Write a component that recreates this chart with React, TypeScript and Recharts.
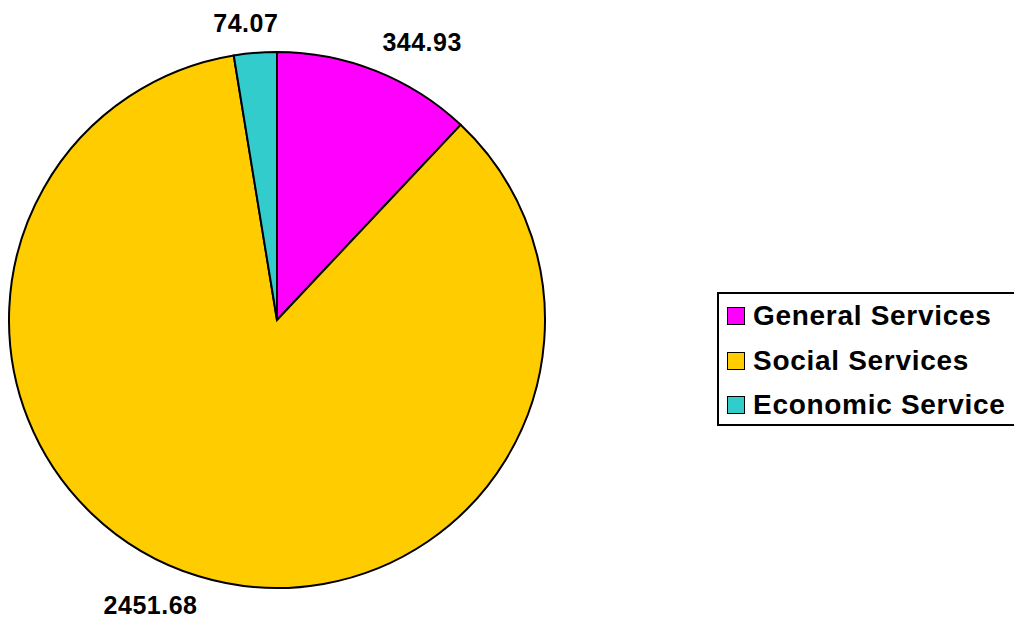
import React from "react";
import { PieChart, Pie, Cell, Legend } from "recharts";

const categories = ["General Services", "Social Services", "Economic Service"];
const values = [344.93, 2451.68, 74.07];
const colors = ["#FF00FF", "#FFCC00", "#33CCCC"];

const data = categories.map((name, i) => ({ name, value: values[i] }));

const RADIAN = Math.PI / 180;
const FONT = "'Liberation Sans', Arial, sans-serif";

const renderLabel = (props: any) => {
  const { cx, cy, midAngle, outerRadius, value } = props;
  const r = outerRadius + 18;
  const cos = Math.cos(midAngle * RADIAN);
  const sin = Math.sin(midAngle * RADIAN);
  const x = cx + r * cos;
  const y = cy - r * sin;
  // place the label's nearest corner on the ray through the slice middle
  const anchor = cos > 0.2 ? "start" : cos < -0.2 ? "end" : "middle";
  const dx = anchor === "middle" ? -8 : anchor === "end" ? 4 : 0;
  const dy = sin >= 0 ? -3 : 20;
  return (
    <text
      x={x}
      y={y}
      dx={dx}
      dy={dy}
      textAnchor={anchor}
      fill="#000"
      fontFamily={FONT}
      fontWeight="bold"
      fontSize={25}
      letterSpacing={0.5}
    >
      {value.toFixed(2)}
    </text>
  );
};

const renderLegend = () => (
  <div
    style={{
      border: "2px solid #000",
      width: 320,
      height: 134,
      boxSizing: "border-box",
      background: "#fff",
    }}
  >
    {categories.map((name, i) => (
      <div
        key={name}
        style={{
          display: "flex",
          alignItems: "center",
          height: 44.5,
          fontFamily: FONT,
          fontWeight: "bold",
          fontSize: 28,
          letterSpacing: 0.7,
          color: "#000",
          whiteSpace: "nowrap",
        }}
      >
        <span
          style={{
            display: "inline-block",
            width: 16,
            height: 16,
            marginLeft: 8,
            marginRight: 8,
            background: colors[i],
            border: "1.5px solid #000",
          }}
        />
        {name}
      </div>
    ))}
  </div>
);

export default function App() {
  return (
    <div
      style={{
        position: "fixed",
        left: 0,
        top: 0,
        width: 1014,
        height: 621,
        overflow: "hidden",
        background: "#fff",
      }}
    >
      <PieChart
        width={1014}
        height={621}
        margin={{ top: 0, right: 0, bottom: 0, left: 0 }}
      >
        <Pie
          data={data}
          dataKey="value"
          nameKey="name"
          cx={277}
          cy={320}
          outerRadius={268}
          startAngle={90}
          endAngle={-270}
          stroke="#000"
          strokeWidth={2}
          label={renderLabel}
          labelLine={false}
          isAnimationActive={false}
        >
          {data.map((d, i) => (
            <Cell key={d.name} fill={colors[i]} />
          ))}
        </Pie>
        <Legend
          content={renderLegend}
          wrapperStyle={{ left: 717, top: 292, width: 320 }}
        />
      </PieChart>
    </div>
  );
}
